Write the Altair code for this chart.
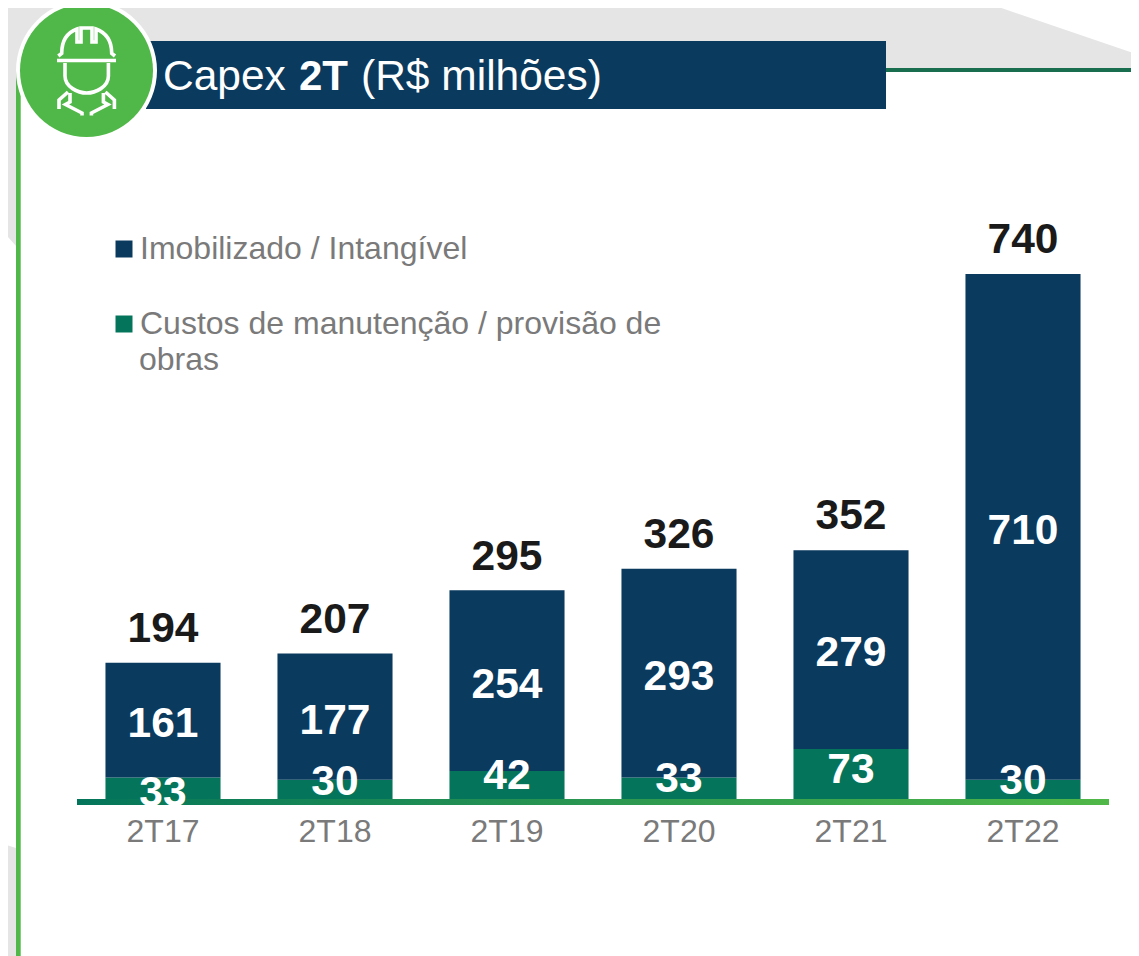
import altair as alt
import pandas as pd

# ---- data ----
categories = ["2T17", "2T18", "2T19", "2T20", "2T21", "2T22"]
imobilizado = [161, 177, 254, 293, 279, 710]
custos = [33, 30, 42, 33, 73, 30]
totals = [194, 207, 295, 326, 352, 740]
serie_a = "Imobilizado / Intangível"
serie_b = "Custos de manutenção / provisão de obras"

# ---- styles ----
NAVY = "#0a3a5e"
GREEN = "#04755a"
LIME = "#50b848"
GRAY = "#7a7a7a"
FONT = "Liberation Sans"
OX, OY = 77, 274          # page position of the plot origin

rows = []
for c, a, b, t in zip(categories, imobilizado, custos, totals):
    rows.append(dict(cat=c, serie=serie_b, value=b, ord=0, mid=b / 2, total=t))
    rows.append(dict(cat=c, serie=serie_a, value=a, ord=1, mid=b + a / 2, total=t))
df = pd.DataFrame(rows)
one = pd.DataFrame({"a": [0]})

x_enc = alt.X(
    "cat:N",
    sort=categories,
    title=None,
    scale=alt.Scale(domain=categories, paddingInner=0.331, paddingOuter=0.1655),
    axis=alt.Axis(
        domain=False, ticks=False, grid=False, labelAngle=0, labelFont=FONT,
        labelFontSize=32, labelColor=GRAY, labelPadding=15,
    ),
)
y_scale = alt.Scale(domain=[0, 740], nice=False, zero=True)


def page_rect(x0, x1, y0, y1, color):
    return alt.Chart(one).mark_rect(color=color).encode(
        x=alt.value(x0 - OX), x2=alt.value(x1 - OX),
        y=alt.value(y0 - OY), y2=alt.value(y1 - OY),
    )


def page_path(path, **kw):
    # size 4 means a path unit is one pixel; the point sits on the page corner
    return alt.Chart(one).mark_point(shape=path, size=4, opacity=1, **kw).encode(
        x=alt.value(-OX), y=alt.value(-OY),
    )


def page_text(s, x, y, size, color, weight="normal", align="left"):
    return alt.Chart(one).mark_text(
        font=FONT, fontSize=size, color=color, fontWeight=weight,
        align=align, baseline="alphabetic",
    ).encode(x=alt.value(x - OX), y=alt.value(y - OY), text=alt.value(s))


def circle(cx, cy, d, color):
    return alt.Chart(one).mark_point(
        shape="circle", size=d * d, filled=True, color=color, opacity=1
    ).encode(x=alt.value(cx - OX), y=alt.value(cy - OY))


layers = [
    page_path("M0,0H978L1139,55V70H16V246L0,228Z", filled=True, color="#e5e5e5"),
    page_path("M0,843L16,848V956H0Z", filled=True, color="#e5e5e5"),
    page_rect(886, 1139, 68, 72, "#1a6e50"),
    page_rect(16, 20.7, 70, 956, LIME),
    page_rect(146, 886, 41, 109, NAVY),
    circle(86.5, 70.5, 141, "white"),
    circle(86.5, 70.5, 133, LIME),
    page_path(
        "M57,60.5H116"
        "M58.3,56L61.7,53.3C61.7,42 66,33 77,29V42H81V28H92V42H96V29"
        "C107,33 111.7,42 111.7,53.3L115,56"
        "M65,63V76C65,87 78,93 86.7,93C95.4,93 108.4,87 108.4,76V63"
        "M68,92L59,100V109M70,93V102L65.5,104.5L82,113V115.5"
        "M105.4,92L114.4,100V109M103.4,93V102L107.9,104.5L91.4,113V115.5",
        filled=False, color="white", strokeWidth=3.6,
    ),
    page_text("Capex", 163, 90, 42.5, "white"),
    page_text("2T", 299, 90, 42, "white", weight="bold"),
    page_text("(R$ milhões)", 361, 90, 42.5, "white"),
]

bars = alt.Chart(df).mark_bar().encode(
    x=x_enc,
    y=alt.Y("value:Q", stack="zero", scale=y_scale, axis=None),
    order=alt.Order("ord:Q"),
    color=alt.Color(
        "serie:N",
        scale=alt.Scale(domain=[serie_a, serie_b], range=[NAVY, GREEN]),
        legend=alt.Legend(
            title=None, orient="none", legendX=31, legendY=-41,
            symbolType="square", symbolSize=289, symbolStrokeWidth=0,
            labelFont=FONT, labelFontSize=32, labelColor=GRAY, labelOffset=0,
            labelLimit=700, rowPadding=43, symbolOpacity=1,
            labelExpr="replace(datum.label, ' obras', '')",
        ),
    ),
)
layers.append(bars)

layers.append(alt.Chart(one).mark_rect(
    color=alt.Gradient(
        gradient="linear", x1=0, x2=1, y1=0, y2=0,
        stops=[alt.GradientStop(offset=0, color=GREEN),
               alt.GradientStop(offset=1, color=LIME)],
    )
).encode(x=alt.value(0), x2=alt.value(1032), y=alt.value(799 - OY), y2=alt.value(805 - OY)))

layers.append(page_text("obras", 139, 370, 32, GRAY))

# hand placement of the value labels, as in the reference
LABEL_DY = {
    serie_b: dict(zip(categories, [4, -8, -10, -10, -5, -9])),
    serie_a: dict(zip(categories, [4, 4, 4, 4, 3, 4])),
}
for s, by_cat in LABEL_DY.items():
    for c, d in by_cat.items():
        layers.append(
            alt.Chart(df)
            .transform_filter(f"datum.cat == '{c}' && datum.serie == '{s}'")
            .mark_text(font=FONT, fontSize=42.5, fontWeight="bold", color="white", dy=d)
            .encode(x=x_enc, y=alt.Y("mid:Q", scale=y_scale, axis=None), text="value:Q")
        )

layers.append(
    alt.Chart(df)
    .transform_filter("datum.ord == 1")
    .mark_text(font=FONT, fontSize=42.5, fontWeight="bold", color="#1a1a1a", dy=-34)
    .encode(x=x_enc, y=alt.Y("total:Q", scale=y_scale, axis=None), text="total:Q")
)

chart = (
    alt.layer(*layers)
    .properties(
        width=1032, height=527,
        autosize=alt.AutoSizeParams(type="none"),
        padding={"left": 69, "top": 266, "right": 22, "bottom": 155},
        background="white",
    )
    .configure_view(stroke=None)
)

chart.save("out.html", embed_options={"renderer": "svg", "actions": False})
